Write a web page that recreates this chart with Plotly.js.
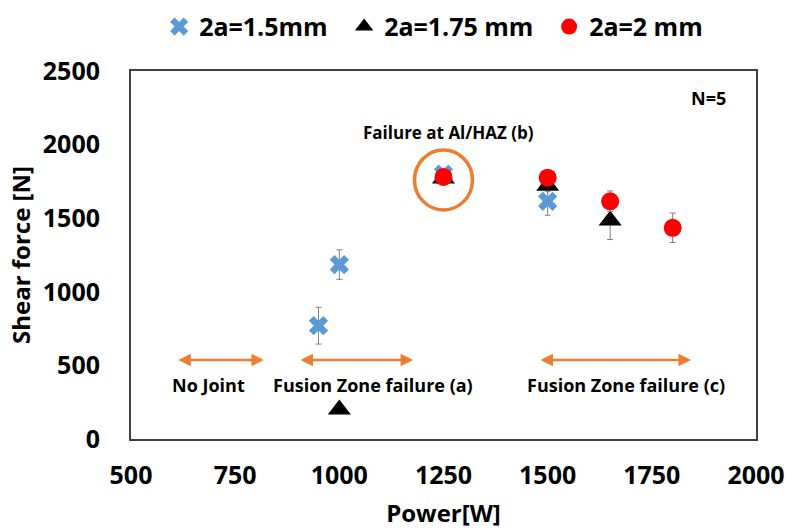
<!DOCTYPE html>
<html><head><meta charset="utf-8">
<script src="https://cdn.plot.ly/plotly-3.0.1.min.js"></script>
<style>body{margin:0;background:#fff}#chart{width:788px;height:529px}</style>
</head><body><div id="chart"></div>
<script>
// Series names
const seriesNames = ['2a=1.5mm', '2a=1.75 mm', '2a=2 mm'];
// 2a = 1.5 mm
const power15 = [950, 1000, 1250, 1500];
const force15 = [770, 1185, 1800, 1615];
const err15   = [125, 100, 30, 95];
// 2a = 1.75 mm
const power175 = [1000, 1250, 1500, 1650];
const force175 = [200, 1770, 1720, 1485];
const err175   = [20, 30, 40, 130];
// 2a = 2 mm
const power2 = [1250, 1500, 1650, 1800];
const force2 = [1780, 1775, 1615, 1435];
const err2   = [30, 30, 70, 100];
// Axis ticks
const xTicks = [500, 750, 1000, 1250, 1500, 1750, 2000];
const yTicks = [0, 500, 1000, 1500, 2000, 2500];
// Region labels and arrows
const regionLabels = ['No Joint', 'Fusion Zone failure (a)', 'Fusion Zone failure (c)'];
const regionLabelX = [687, 1081, 1688];
const regionArrowStart = [610, 903, 1479];
const regionArrowEnd = [819, 1177, 1844];

const F = 'Open Sans, DejaVu Sans, sans-serif';
const errStyle = {type: 'data', visible: true, color: '#808080', thickness: 1, width: 3};

const traces = [
  {x: power15, y: force15, name: seriesNames[0], type: 'scatter', mode: 'markers', legendwidth: 140,
   marker: {symbol: 'x', size: 17, color: '#5B9BD5'},
   error_y: Object.assign({array: err15}, errStyle)},
  {x: power175, y: force175, name: seriesNames[1], type: 'scatter', mode: 'markers', legendwidth: 160,
   marker: {symbol: 'triangle-up', size: 20, color: '#000000'},
   error_y: Object.assign({array: err175}, errStyle)},
  {x: power2, y: force2, name: seriesNames[2], type: 'scatter', mode: 'markers',
   marker: {symbol: 'circle', size: 18, color: '#FF0000'},
   error_y: Object.assign({array: err2}, errStyle)}
];

const orange = '#ED7D31';
const annFont = {family: F, size: 18, color: '#000', weight: 'bold'};
const annotations = [
  {x: 1885, y: 2320, xref: 'x', yref: 'y', text: 'N=5', showarrow: false, font: annFont},
  {x: 1262, y: 2080, xref: 'x', yref: 'y', text: 'Failure at Al/HAZ (b)', showarrow: false,
   font: {family: F, size: 17, color: '#000', weight: 'bold'}}
];
for (let i = 0; i < regionLabels.length; i++) {
  annotations.push({x: regionLabelX[i], y: 370, xref: 'x', yref: 'y', text: regionLabels[i],
    showarrow: false, font: annFont});
  annotations.push({x: regionArrowEnd[i], y: 537, ax: regionArrowStart[i], ay: 537,
    xref: 'x', yref: 'y', axref: 'x', ayref: 'y', text: '', showarrow: true,
    arrowside: 'end+start', arrowhead: 2, arrowsize: 1, arrowwidth: 2.5, arrowcolor: orange});
}

const layout = {
  width: 788, height: 529,
  margin: {l: 131, r: 32, t: 71, b: 90, autoexpand: false},
  paper_bgcolor: '#fff', plot_bgcolor: '#fff',
  font: {family: F, color: '#000'},
  showlegend: true,
  legend: {orientation: 'h', x: 0.045, xanchor: 'left', y: 1.12, yanchor: 'middle',
    font: {family: F, size: 25, color: '#000', weight: 'bold'}, itemsizing: 'trace',
    bgcolor: 'rgba(0,0,0,0)'},
  xaxis: {range: [500, 2000], tickvals: xTicks, ticktext: xTicks.map(String),
    showgrid: false, zeroline: false, showline: true, mirror: true, linecolor: '#404040', linewidth: 2,
    ticks: '', ticklabelstandoff: 13,
    tickfont: {family: F, size: 25, color: '#000', weight: 'bold'},
    title: {text: 'Power[W]', standoff: 16, font: {family: F, size: 24, color: '#000', weight: 'bold'}}},
  yaxis: {range: [0, 2500], tickvals: yTicks, ticktext: yTicks.map(String),
    showgrid: false, zeroline: false, showline: true, mirror: true, linecolor: '#404040', linewidth: 2,
    ticks: '', ticklabelstandoff: 24,
    tickfont: {family: F, size: 25, color: '#000', weight: 'bold'},
    title: {text: 'Shear force [N]', standoff: 5, font: {family: F, size: 24, color: '#000', weight: 'bold'}}},
  shapes: [
    {type: 'circle', xref: 'x', yref: 'y', xsizemode: 'pixel', ysizemode: 'pixel',
     xanchor: 1250, yanchor: 1760, x0: -29, x1: 29, y0: -30, y1: 30,
     line: {color: orange, width: 3.5}}
  ],
  annotations: annotations
};

Plotly.newPlot('chart', traces, layout, {displayModeBar: false, staticPlot: true});
</script>
</body></html>
